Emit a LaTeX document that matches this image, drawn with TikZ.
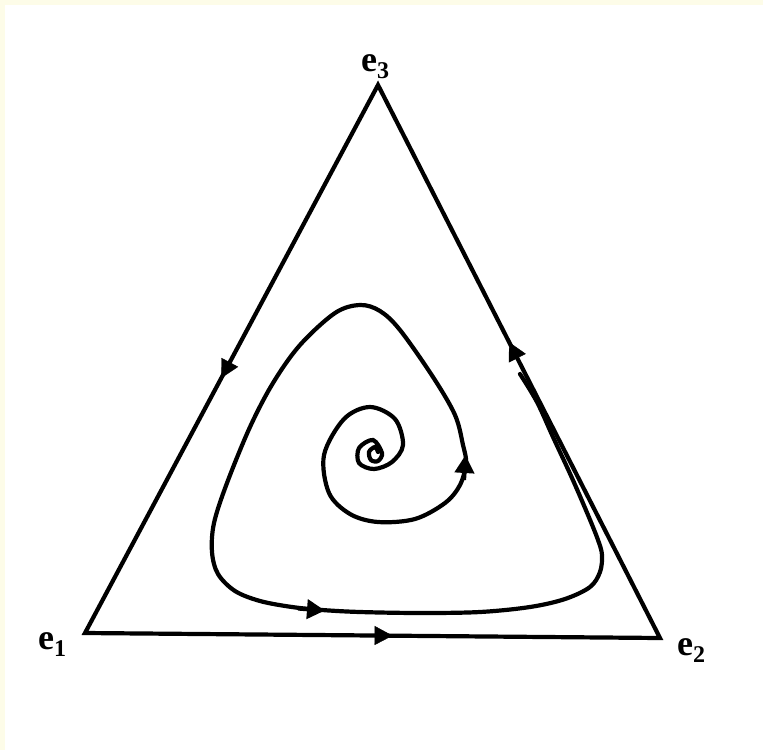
\documentclass[tikz,border=0pt]{standalone}
\usepackage{fontspec}
\setmainfont{Liberation Serif}
\usetikzlibrary{arrows.meta,decorations.markings}
\definecolor{cream}{RGB}{253,252,232}
\newcommand{\lsub}[1]{\raisebox{-7pt}{\fontsize{24}{24}\selectfont #1}}
\tikzset{
  edge/.style={line width=4.2pt, line join=miter, black},
  curve/.style={line width=4.2pt, black, line cap=round},
  tip/.style={-{Triangle[length=18pt,width=19pt]}, line width=4.2pt},
  midarrow/.style={decorate, decoration={markings, mark=at position #1 with {\arrow{Triangle[length=18pt,width=19pt]}}}},
  lab/.style={inner sep=0pt, font=\fontsize{36}{36}\selectfont\bfseries}
}
\begin{document}
\begin{tikzpicture}[x=1pt,y=-1pt]
\useasboundingbox (0,0) rectangle (763,750);
\fill[white] (0,0) rectangle (763,750);
\fill[cream] (0,0) rectangle (763,5);
\fill[cream] (0,0) rectangle (5,750);

\coordinate (v1) at (85,633);
\coordinate (v2) at (660,638);
\coordinate (v3) at (378,85);

\draw[edge] (v1) -- (v2) -- (v3) -- cycle;
\path[midarrow=0.535] (v1) -- (v2);
\path[midarrow=0.535] (v2) -- (v3);
\path[midarrow=0.535] (v3) -- (v1);

\node[lab, anchor=base west] (L3) at (361,71) {e\lsub{3}};
\node[lab, anchor=base west] (L1) at (38,649) {e\lsub{1}};
\node[lab, anchor=base west] (L2) at (677,655) {e\lsub{2}};

\draw[curve] plot[smooth, tension=0.55] coordinates {
 (378,452) (375,447) (369,452) (371,460) (378,461) (382,453)
 (373,440) (359,448) (359,463) (374,469) (392,462)
 (403,445) (395,419) (370,407) (344,419) (324,455)
 (329,493) (350,514) (378,522) (415,519) (445,503)
 (460,485) (466,463) (463,445) (455,415) (433,377)
 (400,330) (380,311) (360,305) (335,313) (300,345)
 (273,383) (250,427) (227,483) (214,523) (212,552)
 (218,574) (235,591) (260,601) (292,607) (322,610)
 (360,612) (420,613) (480,612) (530,607) (565,599)
 (590,587) (600,572) (602,555) (598,540) (588,515)
 (572,478) (553,437) (537,402) (520,374)};

\draw[tip] (464,480) -- (465.5,455);
\draw[tip] (298,608.5) -- (325,610.5);
\end{tikzpicture}
\end{document}
